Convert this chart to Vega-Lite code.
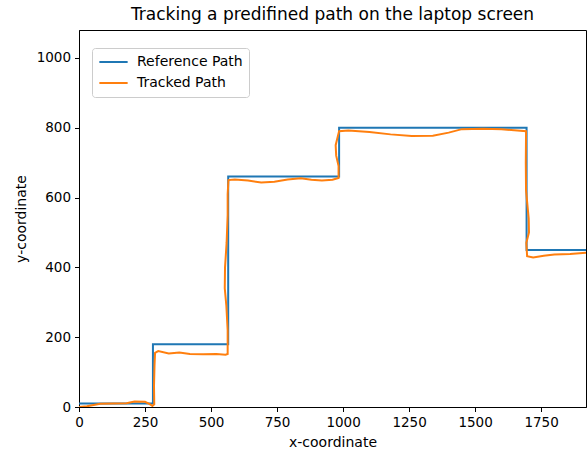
{
  "$schema": "https://vega.github.io/schema/vega-lite/v6.json",
  "autosize": "none",
  "padding": {"left": 79, "top": 30, "right": 2, "bottom": 43},
  "width": 507,
  "height": 377,
  "config": {
    "font": "DejaVu Sans",
    "view": {"stroke": "black", "strokeWidth": 1},
    "axis": {"grid": false, "domainColor": "black", "tickColor": "black", "labelColor": "black", "titleColor": "black", "labelFontSize": 13.5, "titleFontSize": 14, "titleFontWeight": "normal", "tickSize": 4.5, "labelPadding": 4, "format": "d", "labelFlush": false}
  },
  "title": {"text": "Tracking a predifined path on the laptop screen", "fontSize": 17, "fontWeight": "normal", "color": "black", "offset": 6},
  "data": {"values": [
    {"s": "Reference Path", "i": 0, "x": 0, "y": 10},
    {"s": "Reference Path", "i": 1, "x": 280, "y": 10},
    {"s": "Reference Path", "i": 2, "x": 280, "y": 180},
    {"s": "Reference Path", "i": 3, "x": 565, "y": 180},
    {"s": "Reference Path", "i": 4, "x": 565, "y": 660},
    {"s": "Reference Path", "i": 5, "x": 985, "y": 660},
    {"s": "Reference Path", "i": 6, "x": 985, "y": 800},
    {"s": "Reference Path", "i": 7, "x": 1695, "y": 800},
    {"s": "Reference Path", "i": 8, "x": 1695, "y": 450},
    {"s": "Reference Path", "i": 9, "x": 1920, "y": 450},
    {"s": "Tracked Path", "i": 0, "x": 0, "y": 0},
    {"s": "Tracked Path", "i": 1, "x": 30, "y": 2},
    {"s": "Tracked Path", "i": 2, "x": 80, "y": 9},
    {"s": "Tracked Path", "i": 3, "x": 130, "y": 10},
    {"s": "Tracked Path", "i": 4, "x": 180, "y": 11},
    {"s": "Tracked Path", "i": 5, "x": 210, "y": 16},
    {"s": "Tracked Path", "i": 6, "x": 250, "y": 15},
    {"s": "Tracked Path", "i": 7, "x": 268, "y": 8},
    {"s": "Tracked Path", "i": 8, "x": 278, "y": 3},
    {"s": "Tracked Path", "i": 9, "x": 285, "y": 8},
    {"s": "Tracked Path", "i": 10, "x": 284, "y": 60},
    {"s": "Tracked Path", "i": 11, "x": 286, "y": 120},
    {"s": "Tracked Path", "i": 12, "x": 288, "y": 155},
    {"s": "Tracked Path", "i": 13, "x": 300, "y": 160},
    {"s": "Tracked Path", "i": 14, "x": 340, "y": 153},
    {"s": "Tracked Path", "i": 15, "x": 380, "y": 156},
    {"s": "Tracked Path", "i": 16, "x": 420, "y": 152},
    {"s": "Tracked Path", "i": 17, "x": 470, "y": 151},
    {"s": "Tracked Path", "i": 18, "x": 520, "y": 152},
    {"s": "Tracked Path", "i": 19, "x": 555, "y": 150},
    {"s": "Tracked Path", "i": 20, "x": 563, "y": 152},
    {"s": "Tracked Path", "i": 21, "x": 563, "y": 220},
    {"s": "Tracked Path", "i": 22, "x": 558, "y": 290},
    {"s": "Tracked Path", "i": 23, "x": 552, "y": 340},
    {"s": "Tracked Path", "i": 24, "x": 553, "y": 400},
    {"s": "Tracked Path", "i": 25, "x": 559, "y": 470},
    {"s": "Tracked Path", "i": 26, "x": 563, "y": 550},
    {"s": "Tracked Path", "i": 27, "x": 563, "y": 610},
    {"s": "Tracked Path", "i": 28, "x": 566, "y": 650},
    {"s": "Tracked Path", "i": 29, "x": 590, "y": 652},
    {"s": "Tracked Path", "i": 30, "x": 640, "y": 649},
    {"s": "Tracked Path", "i": 31, "x": 690, "y": 643},
    {"s": "Tracked Path", "i": 32, "x": 740, "y": 645},
    {"s": "Tracked Path", "i": 33, "x": 790, "y": 652},
    {"s": "Tracked Path", "i": 34, "x": 840, "y": 655},
    {"s": "Tracked Path", "i": 35, "x": 880, "y": 651},
    {"s": "Tracked Path", "i": 36, "x": 920, "y": 649},
    {"s": "Tracked Path", "i": 37, "x": 960, "y": 651},
    {"s": "Tracked Path", "i": 38, "x": 983, "y": 656},
    {"s": "Tracked Path", "i": 39, "x": 983, "y": 690},
    {"s": "Tracked Path", "i": 40, "x": 974, "y": 720},
    {"s": "Tracked Path", "i": 41, "x": 972, "y": 750},
    {"s": "Tracked Path", "i": 42, "x": 980, "y": 775},
    {"s": "Tracked Path", "i": 43, "x": 985, "y": 790},
    {"s": "Tracked Path", "i": 44, "x": 1020, "y": 792},
    {"s": "Tracked Path", "i": 45, "x": 1100, "y": 788},
    {"s": "Tracked Path", "i": 46, "x": 1180, "y": 781},
    {"s": "Tracked Path", "i": 47, "x": 1260, "y": 776},
    {"s": "Tracked Path", "i": 48, "x": 1340, "y": 777},
    {"s": "Tracked Path", "i": 49, "x": 1400, "y": 786},
    {"s": "Tracked Path", "i": 50, "x": 1450, "y": 796},
    {"s": "Tracked Path", "i": 51, "x": 1530, "y": 797},
    {"s": "Tracked Path", "i": 52, "x": 1600, "y": 796},
    {"s": "Tracked Path", "i": 53, "x": 1660, "y": 792},
    {"s": "Tracked Path", "i": 54, "x": 1693, "y": 790},
    {"s": "Tracked Path", "i": 55, "x": 1692, "y": 700},
    {"s": "Tracked Path", "i": 56, "x": 1693, "y": 620},
    {"s": "Tracked Path", "i": 57, "x": 1703, "y": 540},
    {"s": "Tracked Path", "i": 58, "x": 1704, "y": 500},
    {"s": "Tracked Path", "i": 59, "x": 1694, "y": 470},
    {"s": "Tracked Path", "i": 60, "x": 1697, "y": 432},
    {"s": "Tracked Path", "i": 61, "x": 1720, "y": 428},
    {"s": "Tracked Path", "i": 62, "x": 1760, "y": 433},
    {"s": "Tracked Path", "i": 63, "x": 1800, "y": 437},
    {"s": "Tracked Path", "i": 64, "x": 1860, "y": 438},
    {"s": "Tracked Path", "i": 65, "x": 1920, "y": 442}
  ]},
  "mark": {"type": "line", "strokeWidth": 2, "clip": true},
  "encoding": {
    "x": {"field": "x", "type": "quantitative", "title": "x-coordinate", "scale": {"domain": [0, 1920], "nice": false, "zero": false}, "axis": {"values": [0, 250, 500, 750, 1000, 1250, 1500, 1750], "titlePadding": 6}},
    "y": {"field": "y", "type": "quantitative", "title": "y-coordinate", "scale": {"domain": [0, 1080], "nice": false}, "axis": {"values": [0, 200, 400, 600, 800, 1000], "titlePadding": 8}},
    "order": {"field": "i", "type": "quantitative"},
    "color": {"field": "s", "type": "nominal", "scale": {"domain": ["Reference Path", "Tracked Path"], "range": ["#1f77b4", "#ff7f0e"]},
      "legend": {"title": null, "orient": "none", "legendX": 13, "legendY": 18, "symbolType": "stroke", "symbolSize": 800, "symbolStrokeWidth": 2, "clipHeight": 16, "labelFontSize": 14, "labelColor": "black", "labelOffset": 8, "strokeColor": "#cccccc", "padding": 6, "cornerRadius": 3, "rowPadding": 5, "fillColor": "white"}}
  }
}
